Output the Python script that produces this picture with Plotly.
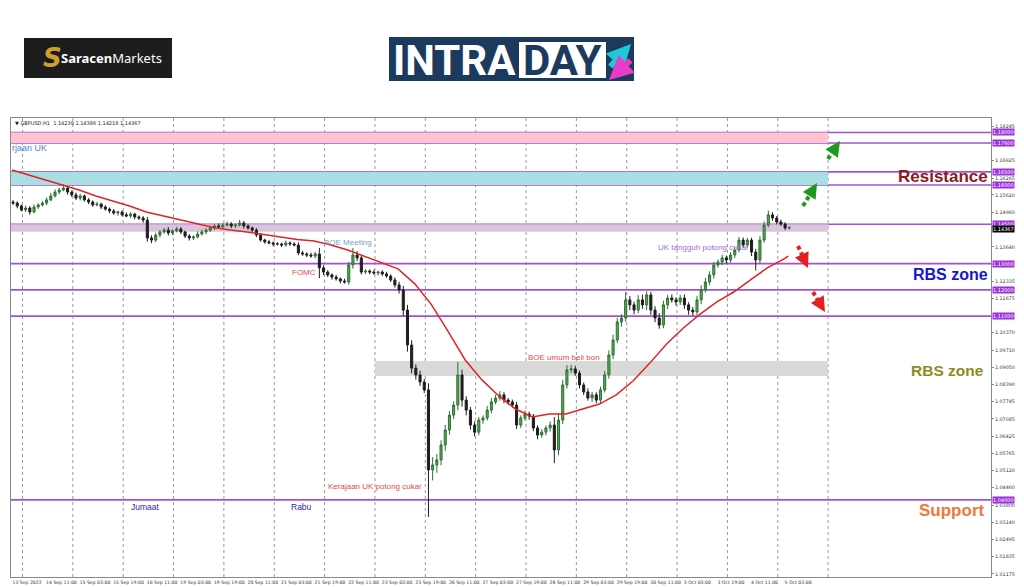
import plotly.graph_objects as go

# ---------------- data ----------------
first_open = 1.1535
# 2-hour candle closes, starting 13 Sep 19:00 (bar index = hours counted on trading hours)
closes = [
    1.1531, 1.1520, 1.1505, 1.1512, 1.1497, 1.1516, 1.1524, 1.1531, 1.1543, 1.1558,
    1.1573, 1.1581, 1.1588, 1.1573, 1.1562, 1.1550, 1.1558, 1.1543, 1.1535, 1.1524,
    1.1527, 1.1516, 1.1508, 1.1501, 1.1493, 1.1497, 1.1486, 1.1482, 1.1489, 1.1478,
    1.1474, 1.1466, 1.1398, 1.1390, 1.1409, 1.1421, 1.1428, 1.1417, 1.1425, 1.1432,
    1.1421, 1.1405, 1.1398, 1.1402, 1.1413, 1.1421, 1.1428, 1.1436, 1.1444, 1.1440,
    1.1447, 1.1451, 1.1444, 1.1447, 1.1455, 1.1444, 1.1436, 1.1428, 1.1409, 1.1390,
    1.1383, 1.1379, 1.1375, 1.1375, 1.1371, 1.1379, 1.1375, 1.1371, 1.1341, 1.1337,
    1.1333, 1.1329, 1.1337, 1.1284, 1.1268, 1.1257, 1.1249, 1.1242, 1.1234, 1.1230,
    1.1295, 1.1333, 1.1322, 1.1268, 1.1272, 1.1268, 1.1264, 1.1268, 1.1261, 1.1253,
    1.1238, 1.1219, 1.1200, 1.1123, 1.0990, 1.0902, 1.0876, 1.0849, 1.0819, 1.0514,
    1.0533, 1.0552, 1.0609, 1.0666, 1.0723, 1.0761, 1.0876, 1.0780, 1.0742, 1.0685,
    1.0658, 1.0704, 1.0712, 1.0742, 1.0773, 1.0788, 1.0800, 1.0780, 1.0773, 1.0761,
    1.0685, 1.0712, 1.0727, 1.0719, 1.0674, 1.0647, 1.0658, 1.0674, 1.0685, 1.0590,
    1.0704, 1.0838, 1.0895, 1.0899, 1.0883, 1.0838, 1.0811, 1.0788, 1.0800, 1.0780,
    1.0819, 1.0876, 1.0952, 1.1009, 1.1078, 1.1093, 1.1162, 1.1143, 1.1123, 1.1162,
    1.1143, 1.1181, 1.1123, 1.1093, 1.1066, 1.1143, 1.1169, 1.1162, 1.1154, 1.1169,
    1.1143, 1.1123, 1.1116, 1.1162, 1.1200, 1.1230, 1.1257, 1.1295, 1.1306, 1.1322,
    1.1314, 1.1333, 1.1352, 1.1390, 1.1371, 1.1390, 1.1344, 1.1314, 1.1390, 1.1447,
    1.1486, 1.1474, 1.1459, 1.1451, 1.1436, 1.14367,
]
upper_wick_pips = [
    8, 6, 5, 9, 7, 10, 6, 8, 9, 12,
    10, 8, 14, 7, 6, 9, 8, 5, 7, 6,
    9, 5, 7, 6, 8, 5, 6, 9, 7, 5,
    6, 8, 12, 10, 9, 7, 8, 11, 6, 9,
    7, 5, 8, 6, 10, 9, 7, 8, 6, 9,
    8, 10, 7, 6, 12, 8, 6, 5, 7, 6,
    5, 8, 6, 7, 5, 9, 6, 7, 10, 8,
    6, 9, 8, 23, 10, 7, 6, 8, 5, 9,
    12, 27, 15, 8, 7, 6, 9, 5, 7, 8,
    6, 10, 12, 15, 20, 18, 14, 16, 12, 25,
    30, 22, 18, 20, 16, 14, 49, 20, 15, 12,
    14, 12, 10, 16, 15, 12, 14, 10, 8, 9,
    12, 10, 14, 9, 8, 10, 12, 9, 14, 30,
    25, 20, 18, 15, 12, 10, 9, 14, 11, 10,
    12, 15, 18, 20, 16, 14, 30, 15, 12, 18,
    20, 14, 12, 15, 18, 16, 12, 14, 10, 12,
    14, 10, 12, 15, 18, 16, 14, 12, 10, 12,
    9, 11, 14, 12, 10, 8, 9, 12, 15, 14,
    16, 10, 8, 9, 7, 6,
]
lower_wick_pips = [
    7, 9, 6, 8, 10, 5, 7, 6, 8, 5,
    6, 9, 5, 10, 8, 7, 9, 6, 8, 7,
    5, 8, 6, 9, 7, 10, 6, 5, 8, 9,
    7, 10, 14, 12, 8, 9, 7, 10, 8, 6,
    9, 7, 10, 8, 6, 5, 9, 7, 8, 6,
    7, 5, 9, 8, 6, 10, 7, 9, 8, 6,
    7, 5, 9, 6, 8, 6, 7, 5, 9, 7,
    8, 6, 9, 39, 12, 8, 10, 7, 9, 6,
    10, 14, 12, 9, 7, 8, 6, 9, 8, 7,
    8, 10, 14, 22, 25, 20, 18, 15, 12, 179,
    40, 30, 20, 22, 18, 15, 20, 25, 20, 18,
    16, 12, 14, 10, 12, 9, 10, 12, 11, 10,
    15, 12, 10, 14, 12, 16, 10, 12, 14, 50,
    20, 15, 14, 12, 10, 14, 12, 10, 15, 12,
    12, 10, 14, 16, 12, 18, 14, 20, 16, 12,
    15, 20, 18, 16, 14, 12, 16, 10, 14, 12,
    15, 18, 14, 12, 16, 10, 12, 14, 10, 12,
    14, 10, 12, 9, 11, 10, 15, 40, 12, 10,
    8, 10, 9, 7, 8, 6,
]

ma_bars = [0, 8, 16, 24, 32, 40, 48, 56, 64, 72, 80, 88, 96, 104, 112, 120, 128, 136,
           144, 152, 160, 168, 176, 184, 192, 200, 208, 216, 224, 232, 240, 248, 256,
           264, 272, 280, 288, 296, 304, 312, 320, 328, 336, 344, 352, 360, 368, 370]
ma_values = [1.1657, 1.1638, 1.1619, 1.1600, 1.1581, 1.1558, 1.1539, 1.1520, 1.1497,
             1.1482, 1.1466, 1.1451, 1.1438, 1.1428, 1.1421, 1.1411, 1.1402, 1.1392,
             1.1386, 1.1371, 1.1352, 1.1329, 1.1303, 1.1280, 1.1223, 1.1143, 1.1040,
             1.0933, 1.0857, 1.0796, 1.0746, 1.0716, 1.0727, 1.0727, 1.0746, 1.0765,
             1.0800, 1.0853, 1.0921, 1.0994, 1.1055, 1.1108, 1.1154, 1.1192, 1.1238,
             1.1284, 1.1318, 1.1329]

x_tick_bars = [0, 16, 32, 48, 64, 80, 96, 112, 128, 144, 160, 176, 192, 208, 224, 240,
               256, 272, 288, 304, 320, 336, 352, 368]
x_tick_labels = ["13 Sep 2022", "14 Sep 11:00", "15 Sep 03:00", "15 Sep 19:00",
                 "16 Sep 11:00", "19 Sep 03:00", "19 Sep 19:00", "20 Sep 11:00",
                 "21 Sep 03:00", "21 Sep 19:00", "22 Sep 11:00", "23 Sep 03:00",
                 "23 Sep 19:00", "26 Sep 11:00", "27 Sep 03:00", "27 Sep 19:00",
                 "28 Sep 11:00", "29 Sep 03:00", "29 Sep 19:00", "30 Sep 11:00",
                 "3 Oct 03:00", "3 Oct 19:00", "4 Oct 11:00", "5 Oct 03:00"]
y_tick_values = [1.18245, 1.16925, 1.16265, 1.15620, 1.14960, 1.13640, 1.12335, 1.11675,
                 1.10370, 1.09710, 1.09050, 1.08390, 1.07745, 1.07085, 1.06425, 1.05765,
                 1.05120, 1.04460, 1.03800, 1.03140, 1.02495, 1.01835, 1.01175]

level_prices = [1.18000, 1.17600, 1.16500, 1.16000, 1.14500, 1.13000, 1.12000, 1.11000, 1.04000]
current_price = 1.14367
ohlc_header = "▼ GBPUSD,H1  1.14239 1.14386 1.14218 1.14367"

zone_pink = (1.1760, 1.1800)
zone_cyan = (1.1600, 1.1650)
zone_lav = (1.1422, 1.1450)
zone_gray = (1.0872, 1.0929)

# ---------------- geometry helpers ----------------
W, H = 1024, 587
ML, MR, MT, MB = 11, 33, 118, 10
PW, PH = W - ML - MR, H - MT - MB


def pxx(x):
    return (x - ML) / PW


def pxy(y):
    return (H - MB - y) / PH


def bar_at(px):
    return (px - 12) / 2.098


def price_at(py):
    return 1.0971 + (350 - py) / 2624


X_RANGE = [bar_at(ML), bar_at(W - MR)]
Y_RANGE = [price_at(H - MB), price_at(MT)]
SHIFT_BAR = 389

# ---------------- candles ----------------
opens, highs, lows, xs = [], [], [], []
prev = first_open
for k, c in enumerate(closes):
    o = prev
    opens.append(o)
    highs.append(max(o, c) + upper_wick_pips[k] * 0.0001)
    lows.append(min(o, c) - lower_wick_pips[k] * 0.0001)
    xs.append(2 * k + 0.5)
    prev = c

fig = go.Figure()
fig.add_trace(go.Candlestick(
    x=xs, open=opens, high=highs, low=lows, close=closes,
    increasing=dict(line=dict(color="#2f6f2f", width=1), fillcolor="#55aa55"),
    decreasing=dict(line=dict(color="#1e1e1e", width=1), fillcolor="#1e1e1e"),
    whiskerwidth=0, hoverinfo="skip", showlegend=False,
))
fig.add_trace(go.Scatter(
    x=ma_bars, y=ma_values, mode="lines", line=dict(color="#e02424", width=1.5),
    hoverinfo="skip", showlegend=False,
))

shapes = []
# zones
for (lo, hi), col, x0 in [(zone_pink, "#ffc4d0", X_RANGE[0]), (zone_cyan, "#a9dfe3", X_RANGE[0]),
                          (zone_lav, "#d9c4dc", X_RANGE[0]), (zone_gray, "#d9d9d9", bar_at(375))]:
    shapes.append(dict(type="rect", xref="x", yref="y", x0=x0, x1=SHIFT_BAR, y0=lo, y1=hi,
                       fillcolor=col, line=dict(width=0), layer="below"))
# vertical dotted day separators
for b in range(5, SHIFT_BAR + 1, 24):
    shapes.append(dict(type="line", xref="x", yref="paper", x0=b, x1=b, y0=0, y1=1,
                       line=dict(color="#9a9a9a", width=1, dash="dot"), layer="below"))
# horizontal levels
for p in level_prices:
    shapes.append(dict(type="line", xref="paper", yref="y", x0=0, x1=1, y0=p, y1=p,
                       line=dict(color="#a052d6", width=1.6), layer="below"))

annotations = []
# dashed direction arrows (tail px, head px, colour)
arrows = [((803, 206), (817, 183), "#1f9a1f"), ((828, 159), (840, 141), "#1f9a1f"),
          ((798, 246), (808, 268), "#e52020"), ((813, 292), (825, 312), "#e52020")]
for (tx, ty), (hx, hy), col in arrows:
    dx, dy = hx - tx, hy - ty
    shapes.append(dict(type="line", xref="x", yref="y",
                       x0=bar_at(tx), y0=price_at(ty),
                       x1=bar_at(tx + dx * 0.7), y1=price_at(ty + dy * 0.7),
                       line=dict(color=col, width=4, dash="4px,3px")))
    annotations.append(dict(x=bar_at(hx), y=price_at(hy), xref="x", yref="y", text="",
                            showarrow=True, arrowhead=2, arrowsize=1.0, arrowwidth=3,
                            arrowcolor=col, ax=-dx * 0.35, ay=-dy * 0.35))

# price labels on the axis
for p in level_prices:
    annotations.append(dict(x=1, xref="paper", y=p, yref="y", xanchor="left", xshift=1,
                            text=f"{p:.5f}", showarrow=False, bgcolor="#9b30d9", borderpad=0,
                            font=dict(size=5, color="white", family="DejaVu Sans")))
annotations.append(dict(x=1, xref="paper", y=current_price, yref="y", xanchor="left", xshift=1,
                        yshift=-1, text=f"{current_price:.5f}", showarrow=False, bgcolor="black",
                        borderpad=0, font=dict(size=5, color="white", family="DejaVu Sans")))

# header
annotations.append(dict(x=pxx(13), y=pxy(123), xref="paper", yref="paper", xanchor="left",
                        yanchor="middle", text=ohlc_header, showarrow=False,
                        font=dict(size=5, color="#222", family="DejaVu Sans")))

# chart notes (text, left px, centre py, colour, size)
notes = [("rjaan UK", 11, 148, "#5b7fd6", 9),
         ("BOE Meeting", 323, 242, "#7d9dc8", 8),
         ("FOMC", 291, 272, "#e84848", 8),
         ("UK tangguh potong cukai", 657, 247, "#9b6fdc", 8),
         ("BOE umum beli bon", 527, 357, "#e84848", 8),
         ("Kerajaan UK potong cukai", 327, 486, "#e84848", 8),
         ("Jumaat", 130, 507, "#2a2aa8", 8.5),
         ("Rabu", 290, 507, "#2a2aa8", 8.5)]
for t, x, y, col, s in notes:
    annotations.append(dict(x=pxx(x), y=pxy(y), xref="paper", yref="paper", xanchor="left",
                            yanchor="middle", text=t, showarrow=False, xshift=-1,
                            font=dict(size=s, color=col, family="Liberation Sans")))

# big zone captions (text, right px, centre py, colour, size)
captions = [("Resistance", 990, 176, "#8b1a1a", 17), ("RBS zone", 990, 274, "#1515d0", 16),
            ("RBS zone", 986, 370, "#8c8c1e", 15.5), ("Support", 986, 510, "#f07838", 17)]
for t, x, y, col, s in captions:
    annotations.append(dict(x=pxx(x), y=pxy(y), xref="paper", yref="paper", xanchor="right",
                            yanchor="middle", text=f"<b>{t}</b>", showarrow=False,
                            font=dict(size=s, color=col, family="Liberation Sans")))

# ---- logos ----
shapes.append(dict(type="rect", xref="paper", yref="paper", x0=pxx(24), x1=pxx(172),
                   y0=pxy(78), y1=pxy(38), fillcolor="#1d1d1d", line=dict(width=0)))
annotations.append(dict(x=pxx(41), y=pxy(58), xref="paper", yref="paper", yanchor="middle",
                        text="<b><i>S</i></b>", showarrow=False,
                        font=dict(size=26, color="#d1a02c", family="DejaVu Sans")))
annotations.append(dict(x=pxx(59), y=pxy(58), xref="paper", yref="paper", xanchor="left",
                        yanchor="middle", text="<b>Saracen</b>Markets", showarrow=False,
                        font=dict(size=13, color="white", family="Noto Sans")))
shapes.append(dict(type="rect", xref="paper", yref="paper", x0=pxx(389), x1=pxx(634),
                   y0=pxy(81), y1=pxy(37), fillcolor="#1b3a5e", line=dict(width=0)))
shapes.append(dict(type="rect", xref="paper", yref="paper", x0=pxx(519), x1=pxx(606),
                   y0=pxy(78), y1=pxy(42), fillcolor="white", line=dict(width=0)))
annotations.append(dict(x=pxx(518), y=pxy(60), xref="paper", yref="paper", xanchor="right",
                        yanchor="middle", text="<b>INTRA</b>", showarrow=False,
                        font=dict(size=42, color="white", family="Roboto")))
annotations.append(dict(x=pxx(562), y=pxy(60), xref="paper", yref="paper", yanchor="middle",
                        text="<b>DAY</b>", showarrow=False,
                        font=dict(size=42, color="#1b3a5e", family="Roboto")))
annotations.append(dict(x=pxx(631), y=pxy(44), xref="paper", yref="paper", text="",
                        showarrow=True, arrowhead=2, arrowsize=0.8, arrowwidth=6,
                        arrowcolor="#1fc8d8", ax=-22, ay=24))
annotations.append(dict(x=pxx(609), y=pxy(80), xref="paper", yref="paper", text="",
                        showarrow=True, arrowhead=2, arrowsize=0.8, arrowwidth=6,
                        arrowcolor="#e83cc8", ax=23, ay=-21))

fig.update_layout(
    width=W, height=H, margin=dict(l=ML, r=MR, t=MT, b=MB, autoexpand=False),
    paper_bgcolor="white", plot_bgcolor="white", showlegend=False,
    shapes=shapes, annotations=annotations,
    xaxis=dict(range=X_RANGE, rangeslider=dict(visible=False), showgrid=False, zeroline=False,
               automargin=False, tickangle=0,
               tickmode="array", tickvals=x_tick_bars, ticktext=x_tick_labels,
               ticklabelposition="outside right", ticks="", ticklen=0,
               tickfont=dict(size=4.6, color="#333", family="DejaVu Sans"),
               showline=True, linecolor="#888", linewidth=1, mirror=True, fixedrange=True),
    yaxis=dict(range=Y_RANGE, side="right", showgrid=False, zeroline=False, automargin=False,
               tickmode="array", tickvals=y_tick_values,
               ticktext=[f"{v:.5f}" for v in y_tick_values], ticks="outside", ticklen=2,
               tickcolor="#888", tickfont=dict(size=4.8, color="#333", family="DejaVu Sans"),
               showline=True, linecolor="#888", linewidth=1, mirror=True, fixedrange=True),
)

fig.write_html("out.html", config={"displayModeBar": False},
               post_script="document.body.style.margin='0';document.body.style.overflow='hidden';")
